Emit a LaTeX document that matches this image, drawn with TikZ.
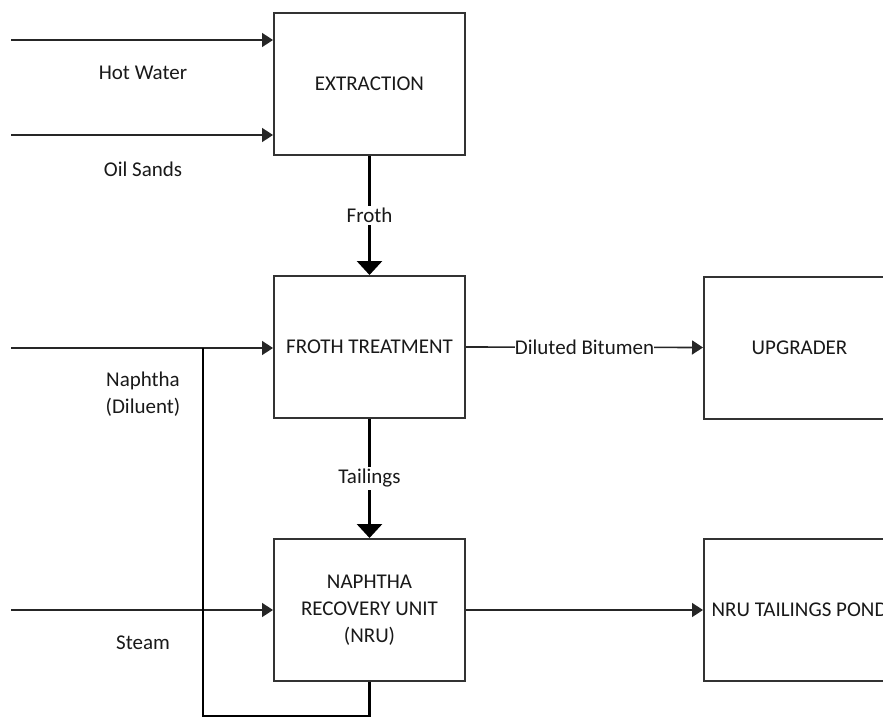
\documentclass[tikz,border=0pt]{standalone}
\usepackage{fontspec}
\setmainfont{Carlito}
\usetikzlibrary{arrows.meta}
\begin{document}
\begin{tikzpicture}[x=1pt,y=-1pt,
  txt/.style={font=\fontsize{21}{27}\selectfont, text=black!90, align=center, inner sep=1pt},
  box/.style={txt, draw=black!80, line width=2pt, minimum width=191pt, minimum height=142pt, inner sep=0pt},
  thinflow/.style={draw=black!85, line width=1.6pt, -{Triangle[length=11pt,width=14pt]}},
  thickflow/.style={draw=black, line width=3pt, -{Triangle[length=14pt,width=25pt]}},
  recycle/.style={draw=black, line width=2.6pt},
  lbl/.style={txt, fill=white, inner sep=2pt}]
\useasboundingbox (0,0) rectangle (883,717);
\clip (0,0) rectangle (883,717);
\fill[white] (0,0) rectangle (883,717);
% boxes
\node[box] (ext) at (369.5,84) {EXTRACTION};
\node[box] (fr) at (369.5,347) {FROTH TREATMENT};
\node[box] (nru) at (369.5,610) {NAPHTHA\\RECOVERY UNIT\\(NRU)};
\node[box] (upg) at (799.5,347.5) {UPGRADER};
\node[box] (pond) at (799.5,610) {NRU TAILINGS POND};
% input points
\coordinate (hw) at (11,40);
\coordinate (os) at (11,135);
\coordinate (na) at (11,348);
\coordinate (st) at (11,610);
\coordinate (j) at (203,348);
% inputs
\draw[thinflow] (hw) -- (hw -| ext.west);
\draw[thinflow] (os) -- (os -| ext.west);
\draw[thinflow] (na) -- (na -| fr.west);
\draw[thinflow] (st) -- (st -| nru.west);
% labels of inputs
\node[txt] (lhw) at (143,73) {Hot Water};
\node[txt] (los) at (143,169) {Oil Sands};
\node[txt] (lna) at (143,394) {Naphtha\\(Diluent)};
\node[txt] (lst) at (143,643) {Steam};
% main flows
\draw[thickflow] (ext.south) -- node[lbl] (lfr) {Froth} (fr.north);
\draw[thickflow] (fr.south) -- node[lbl] (lta) {Tailings} (nru.north);
\draw[thinflow] (fr.east) -- node[lbl, inner sep=0pt] (ldb) {Diluted Bitumen} (upg.west);
\draw[thinflow] (nru.east) -- (pond.west);
% recycle
\draw[recycle] (nru.south) -- ++(0,34) -| (j);
\end{tikzpicture}
\end{document}
